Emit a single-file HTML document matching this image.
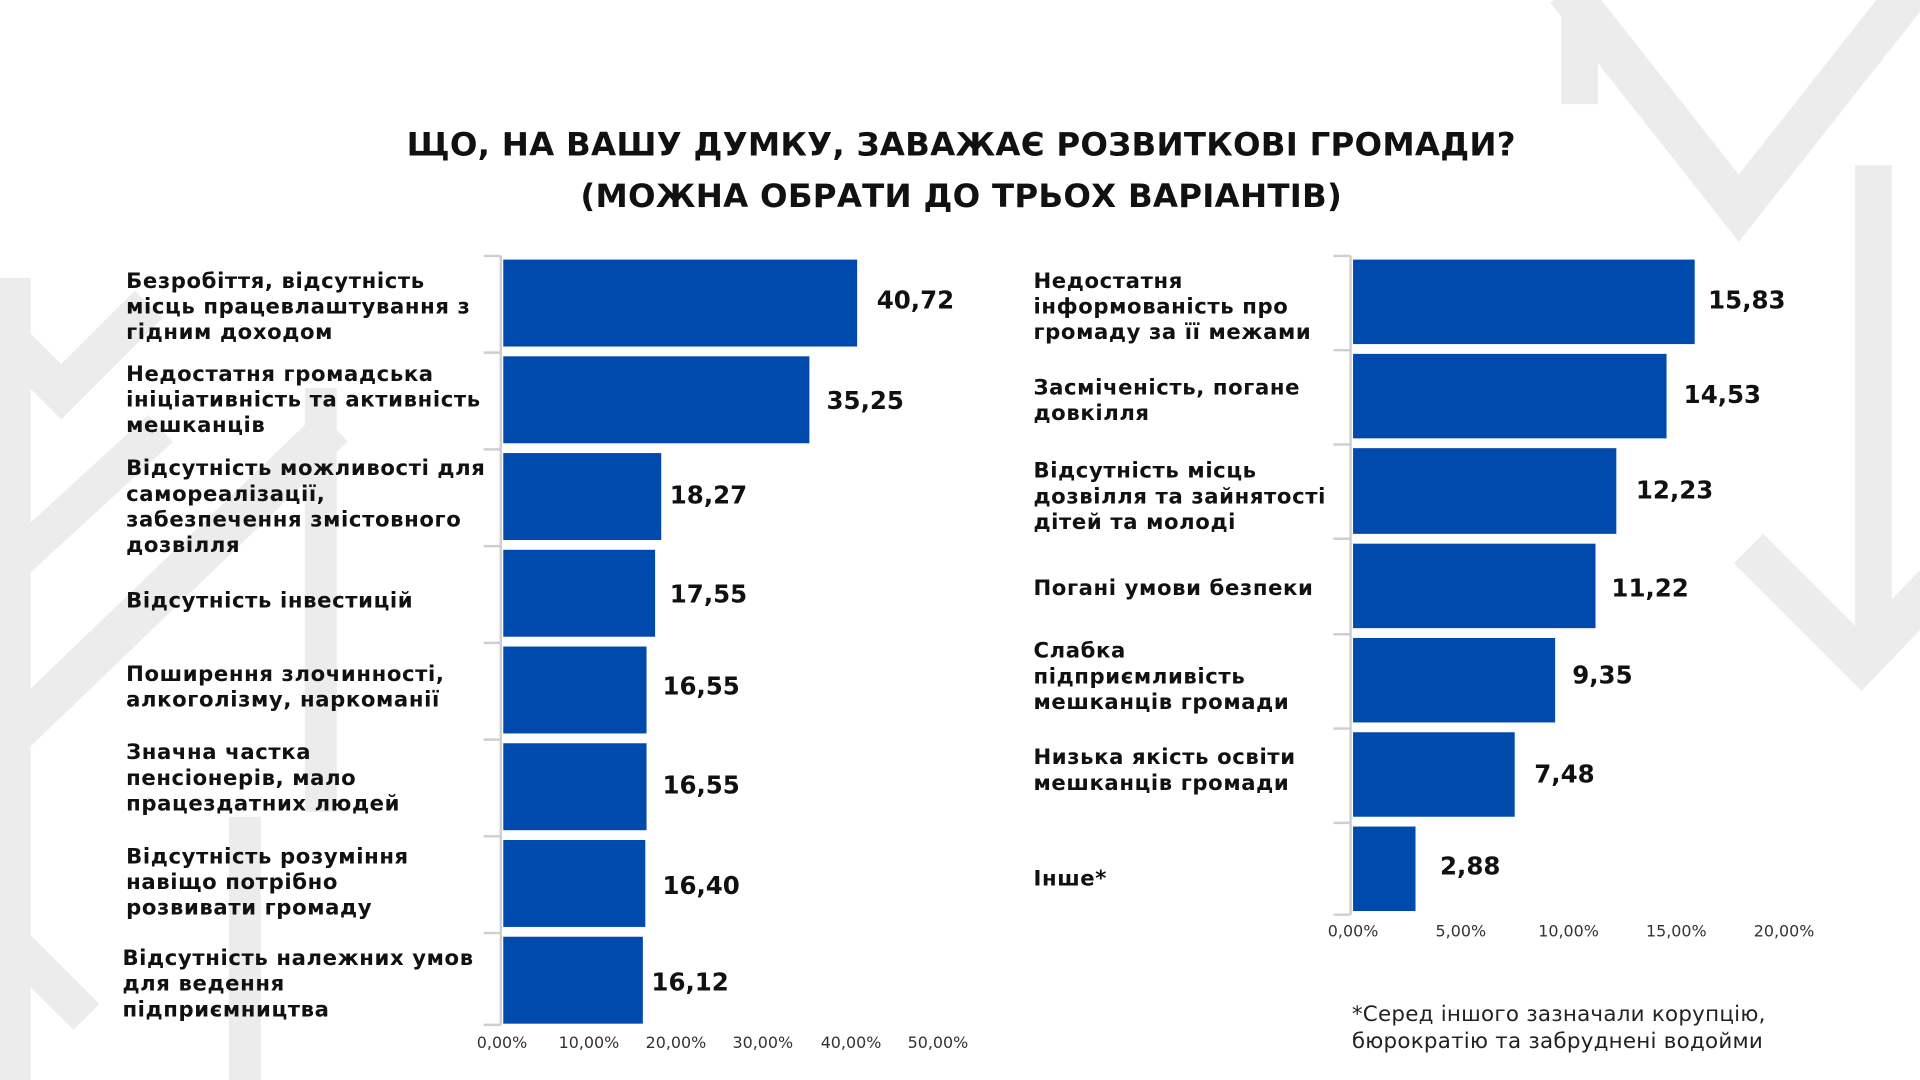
<!DOCTYPE html>
<html><head><meta charset="utf-8"><style>
html,body{margin:0;padding:0;background:#fff;width:1920px;height:1080px;overflow:hidden}
svg{display:block}
.l{font-family:"DejaVu Sans","Liberation Sans",sans-serif;font-weight:bold;font-size:17.3px;letter-spacing:0.5px;fill:#111}
.v{font-family:"DejaVu Sans","Liberation Sans",sans-serif;font-weight:bold;font-size:20px;fill:#111}
.t{font-family:"DejaVu Sans","Liberation Sans",sans-serif;font-size:13px;fill:#333}
.h{font-family:"DejaVu Sans","Liberation Sans",sans-serif;font-weight:bold;font-size:26.5px;letter-spacing:0.2px;fill:#111}
.n{font-family:"DejaVu Sans","Liberation Sans",sans-serif;font-size:17.5px;letter-spacing:0.2px;fill:#222}
</style></head><body>
<svg width="1920" height="1080" viewBox="0 0 1568 882" xmlns="http://www.w3.org/2000/svg">
<g stroke="#ececec" fill="none" stroke-linecap="square">
 <path d="M1290 5 L1420 170 L1550 5" stroke-width="34"/>
 <path d="M1530 150 L1530 500" stroke-width="30"/>
 <path d="M1440 460 L1520 540 L1568 490" stroke-width="34"/>
 <path d="M1290 70 L1290 5" stroke-width="30"/>
 <path d="M12 240 L12 880" stroke-width="26"/>
 <path d="M0 270 L50 320 L110 260" stroke-width="32"/>
 <path d="M0 610 L260 360" stroke-width="34"/>
 <path d="M262 330 L262 650" stroke-width="26"/>
 <path d="M0 470 L120 360" stroke-width="30"/>
 <path d="M200 680 L200 880" stroke-width="26"/>
 <path d="M0 760 L60 820" stroke-width="30"/>
</g>
<text class="h" x="785" y="127" text-anchor="middle">ЩО, НА ВАШУ ДУМКУ, ЗАВАЖАЄ РОЗВИТКОВІ ГРОМАДИ?</text>
<text class="h" x="785" y="169" text-anchor="middle">(МОЖНА ОБРАТИ ДО ТРЬОХ ВАРІАНТІВ)</text>

<g stroke="#cfcfcf" stroke-width="2" fill="none">
 <path d="M409 209 L409 837"/>
 <path d="M395 209H409M395 288H409M395 367H409M395 446H409M395 525H409M395 604H409M395 683H409M395 762H409M395 837H409"/>
</g>
<g fill="#004aad">
 <rect x="411" y="212" width="289" height="71"/>
 <rect x="411" y="291" width="250" height="71"/>
 <rect x="411" y="370" width="129" height="71"/>
 <rect x="411" y="449" width="124" height="71"/>
 <rect x="411" y="528" width="117" height="71"/>
 <rect x="411" y="607" width="117" height="71"/>
 <rect x="411" y="686" width="116" height="71"/>
 <rect x="411" y="765" width="114" height="71"/>
</g>
<g class="v">
 <text x="716" y="252">40,72</text>
 <text x="675" y="334">35,25</text>
 <text x="547" y="411">18,27</text>
 <text x="547" y="492">17,55</text>
 <text x="541" y="567">16,55</text>
 <text x="541" y="648">16,55</text>
 <text x="541" y="730">16,40</text>
 <text x="532" y="809">16,12</text>
</g>
<g class="l">
 <text x="103" y="235">Безробіття, відсутність</text>
 <text x="103" y="256">місць працевлаштування з</text>
 <text x="103" y="277">гідним доходом</text>
 <text x="103" y="311">Недостатня громадська</text>
 <text x="103" y="332">ініціативність та активність</text>
 <text x="103" y="353">мешканців</text>
 <text x="103" y="388">Відсутність можливості для</text>
 <text x="103" y="409">самореалізації,</text>
 <text x="103" y="430">забезпечення змістовного</text>
 <text x="103" y="451">дозвілля</text>
 <text x="103" y="496">Відсутність інвестицій</text>
 <text x="103" y="556">Поширення злочинності,</text>
 <text x="103" y="577">алкоголізму, наркоманії</text>
 <text x="103" y="620"> Значна частка</text>
 <text x="103" y="641">пенсіонерів, мало</text>
 <text x="103" y="662">працездатних людей</text>
 <text x="103" y="705">Відсутність розуміння</text>
 <text x="103" y="726">навіщо потрібно</text>
 <text x="103" y="747">розвивати громаду</text>
 <text x="100" y="788">Відсутність належних умов</text>
 <text x="100" y="809">для ведення</text>
 <text x="100" y="830">підприємництва</text>
</g>
<g class="t" text-anchor="middle">
 <text x="410" y="856">0,00%</text><text x="481" y="856">10,00%</text><text x="552" y="856">20,00%</text>
 <text x="623" y="856">30,00%</text><text x="695" y="856">40,00%</text><text x="766" y="856">50,00%</text>
</g>

<g stroke="#cfcfcf" stroke-width="2" fill="none">
 <path d="M1103 209 L1103 747"/>
 <path d="M1089 209H1103M1089 286H1103M1089 363H1103M1089 440H1103M1089 518H1103M1089 595H1103M1089 672H1103M1089 747H1103"/>
</g>
<g fill="#004aad">
 <rect x="1105" y="212" width="279" height="69"/>
 <rect x="1105" y="289" width="256" height="69"/>
 <rect x="1105" y="366" width="215" height="70"/>
 <rect x="1105" y="444" width="198" height="69"/>
 <rect x="1105" y="521" width="165" height="69"/>
 <rect x="1105" y="598" width="132" height="69"/>
 <rect x="1105" y="675" width="51" height="69"/>
</g>
<g class="v">
 <text x="1395" y="252">15,83</text>
 <text x="1375" y="329">14,53</text>
 <text x="1336" y="407">12,23</text>
 <text x="1316" y="487">11,22</text>
 <text x="1284" y="558">9,35</text>
 <text x="1253" y="639">7,48</text>
 <text x="1176" y="714">2,88</text>
</g>
<g class="l">
 <text x="844" y="235">Недостатня</text>
 <text x="844" y="256">інформованість про</text>
 <text x="844" y="277">громаду за її межами</text>
 <text x="844" y="322">Засміченість, погане</text>
 <text x="844" y="343">довкілля</text>
 <text x="844" y="390">Відсутність місць</text>
 <text x="844" y="411">дозвілля та зайнятості</text>
 <text x="844" y="432">дітей та молоді</text>
 <text x="844" y="486">Погані умови безпеки</text>
 <text x="844" y="537">Слабка</text>
 <text x="844" y="558">підприємливість</text>
 <text x="844" y="579">мешканців громади</text>
 <text x="844" y="624">Низька якість освіти</text>
 <text x="844" y="645">мешканців громади</text>
 <text x="844" y="723">Інше*</text>
</g>
<g class="t" text-anchor="middle">
 <text x="1105" y="765">0,00%</text><text x="1193" y="765">5,00%</text><text x="1281" y="765">10,00%</text>
 <text x="1369" y="765">15,00%</text><text x="1457" y="765">20,00%</text>
</g>
<text class="n" x="1104" y="834">*Серед іншого  зазначали корупцію,</text>
<text class="n" x="1104" y="856">бюрократію та забруднені водойми</text>
</svg>
</body></html>
